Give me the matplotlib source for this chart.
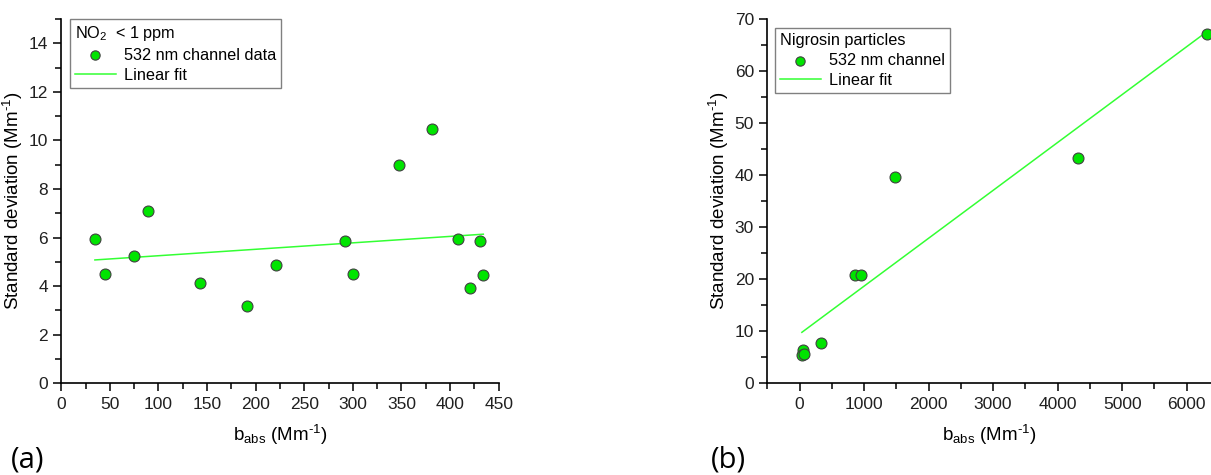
import matplotlib.pyplot as plt
from matplotlib.ticker import MultipleLocator

plt.rcParams['font.family'] = ['Liberation Sans', 'DejaVu Sans']
plt.rcParams['mathtext.default'] = 'regular'

# panel (a): NO2 < 1 ppm
a_x = [34.6, 45.3, 74.8, 88.8, 143.0, 191.4, 220.9, 292.2, 300.1, 347.4, 381.7, 408.5, 420.2, 430.8, 434.2]
a_y = [5.95, 4.51, 5.26, 7.09, 4.15, 3.17, 4.89, 5.88, 4.52, 8.98, 10.48, 5.94, 3.94, 5.88, 4.45]
a_fit_x = [34.6, 434.2]
a_fit_y = [5.08, 6.14]

# panel (b): nigrosin particles
b_x = [6310, 4322, 1477, 852, 945, 336, 52, 40, 62]
b_y = [67.2, 43.2, 39.6, 20.8, 20.75, 7.81, 6.47, 5.5, 5.6]
b_fit_x = [36, 6258]
b_fit_y = [9.8, 67.05]

dot_color = '#00e400'
line_color = '#33ff33'

fig = plt.figure(figsize=(12.11, 4.75), dpi=100)
ax1 = fig.add_axes([0.0506, 0.193, 0.3612, 0.767])
ax2 = fig.add_axes([0.6336, 0.193, 0.366, 0.767])

unit = 'Mm$^{\u20101}$'


def style(ax, xmaj, ymaj):
    for s in ['top', 'right']:
        ax.spines[s].set_visible(False)
    for s in ['left', 'bottom']:
        ax.spines[s].set_linewidth(1.2)
    ax.xaxis.set_major_locator(MultipleLocator(xmaj))
    ax.xaxis.set_minor_locator(MultipleLocator(xmaj / 2))
    ax.yaxis.set_major_locator(MultipleLocator(ymaj))
    ax.yaxis.set_minor_locator(MultipleLocator(ymaj / 2))
    ax.tick_params(which='major', direction='out', length=6, width=1.1,
                   labelsize=12.5, labelcolor='#202020')
    ax.tick_params(which='minor', direction='out', length=4, width=1.1)
    ax.set_xlabel('b$_{abs}$ (' + unit + ')', fontsize=13.5, labelpad=8)
    ax.set_ylabel('Standard deviation (' + unit + ')', fontsize=13.5, labelpad=3)


leg_kw = dict(loc='upper left', alignment='left', fontsize=11.7, title_fontsize=11.7,
              fancybox=False, edgecolor='#808080', framealpha=1, handlelength=2.5,
              borderpad=0.3, labelspacing=0.3, handletextpad=0.5, borderaxespad=0,
              markerscale=0.85)

# (a)
ax1.scatter(a_x, a_y, s=62, color=dot_color, edgecolors='#404040', linewidths=0.8,
            zorder=3, label='532 nm channel data')
ax1.plot(a_fit_x, a_fit_y, color=line_color, lw=1.1, label='Linear fit')
ax1.set_xlim(0, 450)
ax1.set_ylim(0, 15)
style(ax1, 50, 2)
leg = ax1.legend(bbox_to_anchor=(0.02, 1.0), title='NO$_2$  < 1 ppm', **leg_kw)
leg.get_frame().set_linewidth(1.0)

# (b)
ax2.scatter(b_x, b_y, s=62, color=dot_color, edgecolors='#404040', linewidths=0.8,
            zorder=3, clip_on=False, label='532 nm channel')
ax2.plot(b_fit_x, b_fit_y, color=line_color, lw=1.1, label='Linear fit')
ax2.set_xlim(-500, 6370)
ax2.set_ylim(0, 70)
style(ax2, 1000, 10)
leg2 = ax2.legend(bbox_to_anchor=(0.018, 0.975), title='Nigrosin particles', **leg_kw)
leg2.get_frame().set_linewidth(1.0)

fig.text(0.009, 0.015, '(a)', fontsize=21, family='Open Sans')
fig.text(0.587, 0.015, '(b)', fontsize=21, family='Open Sans')

fig.savefig('out.png', dpi=100)
